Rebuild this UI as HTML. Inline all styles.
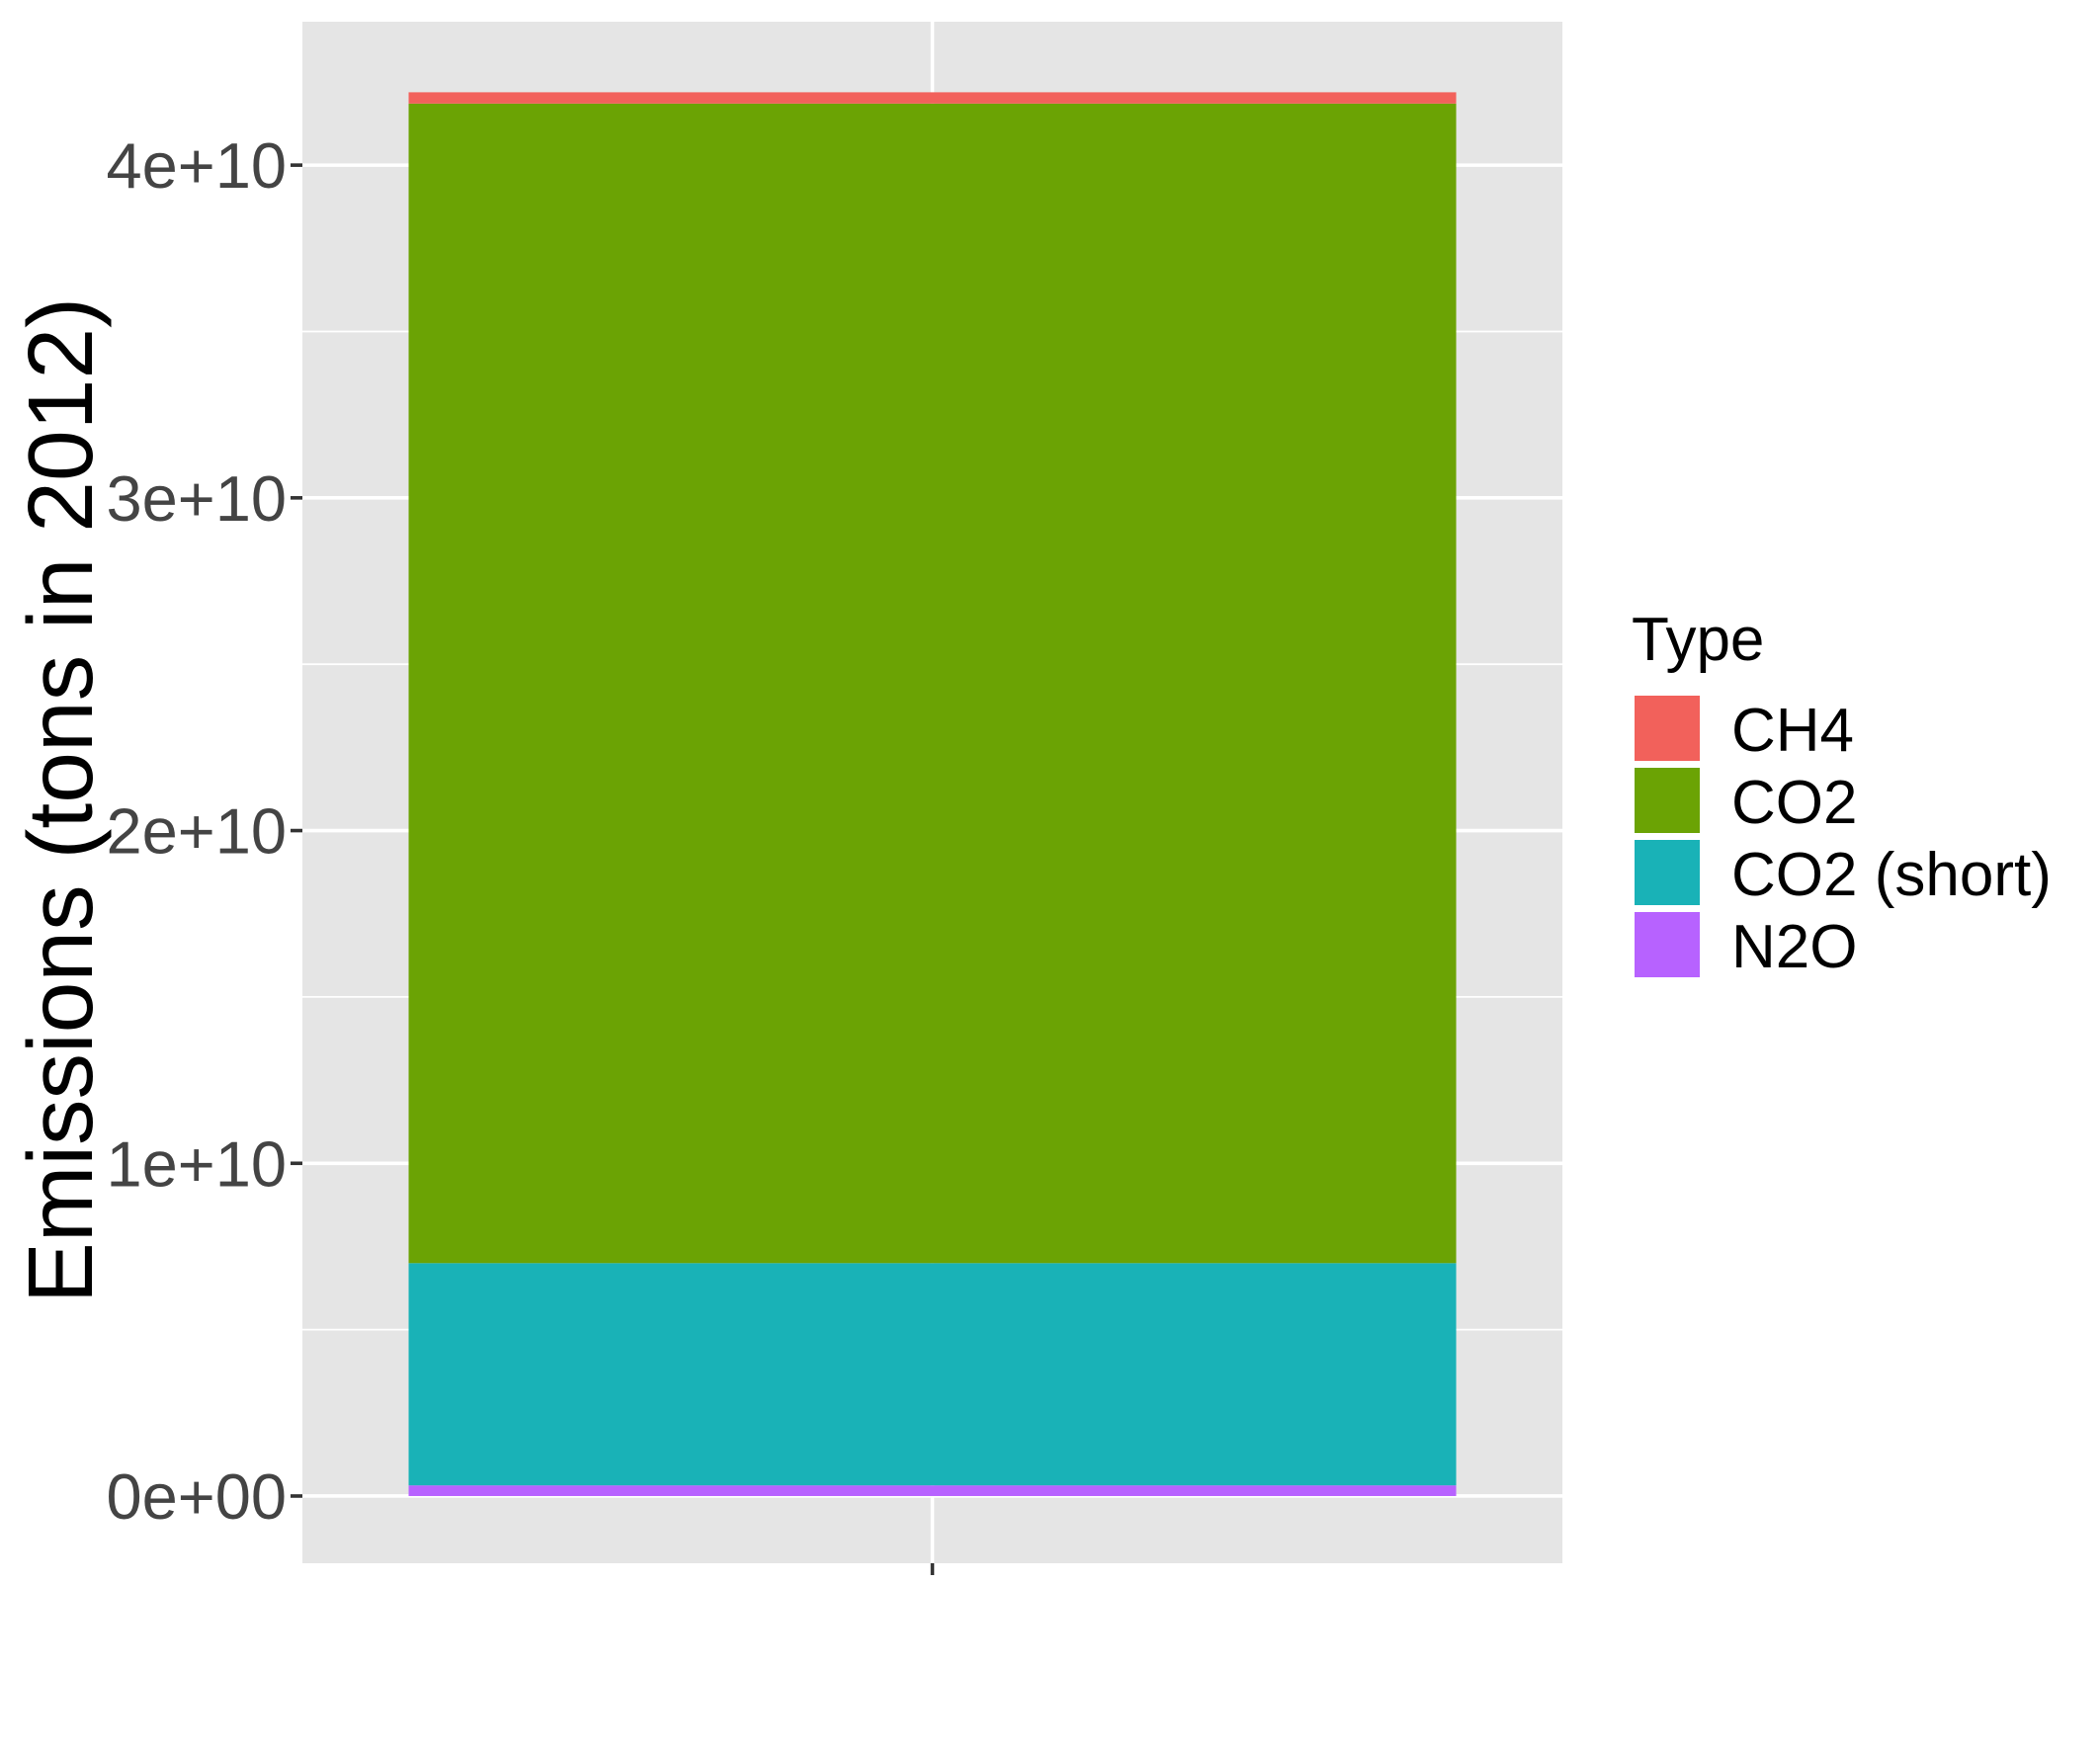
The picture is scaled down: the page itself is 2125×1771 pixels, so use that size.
<!DOCTYPE html>
<html><head><meta charset="utf-8"><style>
html,body{margin:0;padding:0;background:#fff;}
svg{display:block;font-family:"Liberation Sans",Arial,sans-serif;}
</style></head><body>
<svg id="chart" width="2125" height="1771" viewBox="0 0 2125 1771" xmlns="http://www.w3.org/2000/svg">
<rect x="0" y="0" width="2125" height="1771" fill="#fff"/>
<rect id="panel" x="306" y="22" width="1275" height="1560" fill="#e5e5e5"/>
<g id="grid"></g>
<g id="bars"></g>
<g id="yaxis"></g>
<g id="xaxis"></g>
<text x="0" y="0" transform="translate(93,810) rotate(-90)" text-anchor="middle" font-size="93" fill="#000">Emissions (tons in 2012)</text>
<g id="legend">
<text x="1651" y="668" font-size="62" fill="#000">Type</text>
</g>
</svg>
<script>
const categories = ["CH4", "CO2", "CO2 (short)", "N2O"];
const fills = ["#F2615B", "#6BA304", "#19B2B7", "#B762FF"];
const values = [0.034e10, 3.485e10, 0.668e10, 0.032e10];
const stackOrder = ["N2O", "CO2 (short)", "CO2", "CH4"];
const yTicks = [0, 1e10, 2e10, 3e10, 4e10];
const yTickLabels = ["0e+00", "1e+10", "2e+10", "3e+10", "4e+10"];
const yMinor = [0.5e10, 1.5e10, 2.5e10, 3.5e10];

const NS = "http://www.w3.org/2000/svg";
const panelTop = 22, panelBottom = 1582, panelLeft = 306, panelRight = 1581;
const yMin = -0.202e10, yMax = 4.431e10;
function y(v){ return panelBottom - (v - yMin) / (yMax - yMin) * (panelBottom - panelTop); }
const xCenter = (panelLeft + panelRight) / 2;
const barHalf = 530;
function mk(tag, attrs, parent){ const e = document.createElementNS(NS, tag); for (const k in attrs) e.setAttribute(k, attrs[k]); parent.appendChild(e); return e; }

const grid = document.getElementById('grid');
yMinor.forEach(v => {
  const l = mk('line', {x1: panelLeft, x2: panelRight, y1: y(v), y2: y(v), stroke: '#fff', 'stroke-width': 1.8}, grid);
  
  
});
yTicks.forEach(v => {
  const l = mk('line', {x1: panelLeft, x2: panelRight, y1: y(v), y2: y(v), stroke: '#fff', 'stroke-width': 3.6}, grid);
  
  
});
const vl = mk('line', {x1: xCenter, x2: xCenter, y1: panelTop, y2: panelBottom, stroke: '#fff', 'stroke-width': 3.6}, grid);



const bars = document.getElementById('bars');
let cum = 0;
stackOrder.forEach(name => {
  const i = categories.indexOf(name);
  const v = values[i];
  const y0 = y(cum), y1 = y(cum + v);
  const r = mk('rect', {x: xCenter - barHalf, y: y1, width: barHalf * 2, height: y0 - y1, fill: fills[i]}, bars);
  
  
  cum += v;
});

const ya = document.getElementById('yaxis');
yTicks.forEach((v, i) => {
  const t = mk('line', {x1: 294, x2: panelLeft, y1: y(v), y2: y(v), stroke: '#333', 'stroke-width': 3.6}, ya);
  
  
  const tx = mk('text', {x: 290, y: y(v) + 23, 'text-anchor': 'end', 'font-size': 65, fill: '#444'}, ya);
  tx.textContent = yTickLabels[i];
  
  
});
const xa = document.getElementById('xaxis');
const xt = mk('line', {x1: xCenter, x2: xCenter, y1: panelBottom, y2: panelBottom + 12, stroke: '#333', 'stroke-width': 3.6}, xa);



const lg = document.getElementById('legend');
categories.forEach((c, i) => {
  const top = 704 + i * 73;
  const k = mk('rect', {x: 1654, y: top, width: 66, height: 66, fill: fills[i]}, lg);
  
  
  const t = mk('text', {x: 1752, y: top + 56, 'font-size': 62, fill: '#000'}, lg);
  t.textContent = c;
  
  
});
</script>
</body></html>
